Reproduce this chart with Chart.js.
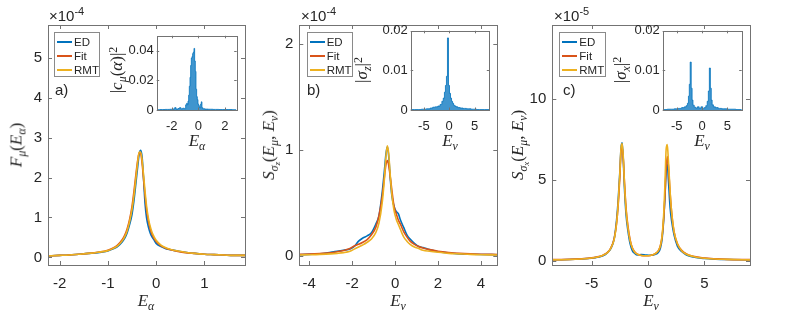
<!DOCTYPE html>
<html lang="en">
<head>
    <meta charset="UTF-8">
    <title>Spectral functions</title>
    <script src="https://cdn.jsdelivr.net/npm/chart.js@4.4.1/dist/chart.umd.min.js"></script>
    <style>
        body { margin: 0; background: #fff; }
        #fig { position: relative; width: 789px; height: 316px; overflow: hidden; font-family: 'Liberation Sans', Arial, sans-serif; color: #262626; }
        canvas { position: absolute; }
        .lbl { position: absolute; white-space: nowrap; }
        .m { font-family: 'Liberation Serif', 'DejaVu Serif', serif; font-size: 17px; line-height: 20px; }
        .m i { font-style: italic; }
        .m sub { font-size: 70%; position: relative; top: 0.3em; vertical-align: baseline; }
        .m sub sub { font-size: 75%; }
        .m sup { font-size: 70%; position: relative; top: -0.45em; vertical-align: baseline; }
        .rot { transform: translate(-50%, -50%) rotate(-90deg); }
        .ctr { transform: translate(-50%, -50%); }
        .exp { font-size: 15px; line-height: 15px; }
        .exp sup { font-size: 11px; position: relative; top: -6px; vertical-align: baseline; }
        .tag { font-size: 15px; line-height: 16px; }
        .legend { position: absolute; background: #fff; border: 1px solid #8a8a8a; box-sizing: border-box; height: 45px; }
        .legend div { position: absolute; left: 19px; font-size: 11.5px; line-height: 12px; }
        .legend span { position: absolute; left: 2px; width: 15px; height: 1.5px; }
    </style>
</head>
<body>
<div id="fig">
    <canvas id="mainA"></canvas>
    <canvas id="mainB"></canvas>
    <canvas id="mainC"></canvas>
    <canvas id="insA"></canvas>
    <canvas id="insB"></canvas>
    <canvas id="insC"></canvas>

    <!-- exponents -->
    <div class="lbl exp" style="left:49px; top:8px;">&times;10<sup>-4</sup></div>
    <div class="lbl exp" style="left:301px; top:8px;">&times;10<sup>-4</sup></div>
    <div class="lbl exp" style="left:554px; top:8px;">&times;10<sup>-5</sup></div>

    <!-- panel tags -->
    <div class="lbl tag" style="left:55px; top:82px;">a)</div>
    <div class="lbl tag" style="left:307px; top:82px;">b)</div>
    <div class="lbl tag" style="left:563px; top:82px;">c)</div>

    <!-- main axis titles -->
    <div class="lbl m rot" style="left:17px; top:145px;"><i>F</i><sub><i>μ</i></sub>(<i>E</i><sub><i>α</i></sub>)</div>
    <div class="lbl m ctr" style="left:146px; top:301px;"><i>E</i><sub><i>α</i></sub></div>
    <div class="lbl m rot" style="left:270px; top:145px;"><i>S</i><sub><i>σ</i><sub><i>z</i></sub></sub>(<i>E</i><sub><i>μ</i></sub>, <i>E</i><sub><i>ν</i></sub>)</div>
    <div class="lbl m ctr" style="left:398px; top:301px;"><i>E</i><sub><i>ν</i></sub></div>
    <div class="lbl m rot" style="left:519px; top:145px;"><i>S</i><sub><i>σ</i><sub><i>x</i></sub></sub>(<i>E</i><sub><i>μ</i></sub>, <i>E</i><sub><i>ν</i></sub>)</div>
    <div class="lbl m ctr" style="left:651px; top:301px;"><i>E</i><sub><i>ν</i></sub></div>

    <!-- inset axis titles -->
    <div class="lbl m rot" style="left:117px; top:70px;">|<i>c</i><sub><i>μ</i></sub>(<i>α</i>)|<sup>2</sup></div>
    <div class="lbl m ctr" style="left:197px; top:141px;"><i>E</i><sub><i>α</i></sub></div>
    <div class="lbl m rot" style="left:362px; top:70px;">|<i>σ</i><sub><i>z</i></sub>|<sup>2</sup></div>
    <div class="lbl m ctr" style="left:450px; top:141px;"><i>E</i><sub><i>ν</i></sub></div>
    <div class="lbl m rot" style="left:621px; top:70px;">|<i>σ</i><sub><i>x</i></sub>|<sup>2</sup></div>
    <div class="lbl m ctr" style="left:702px; top:141px;"><i>E</i><sub><i>ν</i></sub></div>

    <!-- legends -->
    <div class="legend" id="legA" style="left:54px; top:32px; width:46px;"></div>
    <div class="legend" id="legB" style="left:306.7px; top:32px; width:46px;"></div>
    <div class="legend" id="legC" style="left:559.3px; top:32px; width:46.7px;"></div>
</div>

<script>
const seriesNames = ['ED', 'Fit', 'RMT'];
const seriesColors = ['#0072BD', '#D95319', '#EDB120'];
const histColor = 'rgba(0,114,189,0.75)';

// panel a: F_mu(E_alpha), units of 1e-4
const aE   = [-2.24,-2.0,-1.8,-1.6,-1.4,-1.2,-1.0,-0.9,-0.8,-0.7,-0.65,-0.6,-0.55,-0.5,-0.46,-0.42,-0.38,-0.35,-0.32,-0.29,-0.26,-0.23,-0.2,-0.16,-0.12,-0.08,-0.04,0,0.1,0.2,0.3,0.45,0.6,0.8,1.0,1.2,1.4,1.6,1.84];
const aED  = [0.04,0.05,0.06,0.08,0.10,0.12,0.16,0.21,0.27,0.39,0.48,0.62,0.82,1.08,1.42,1.85,2.30,2.60,2.68,2.50,1.95,1.35,1.00,0.76,0.60,0.50,0.43,0.35,0.27,0.22,0.19,0.16,0.13,0.10,0.08,0.07,0.06,0.05,0.05];
const aFit = [0.04,0.05,0.06,0.08,0.10,0.13,0.18,0.23,0.31,0.45,0.56,0.72,0.95,1.28,1.65,2.07,2.45,2.62,2.60,2.35,1.95,1.55,1.20,0.90,0.70,0.56,0.47,0.40,0.29,0.23,0.19,0.15,0.12,0.10,0.08,0.07,0.06,0.05,0.05];
const aRMT = [0.04,0.05,0.06,0.08,0.10,0.13,0.17,0.22,0.29,0.42,0.52,0.67,0.90,1.20,1.55,1.98,2.42,2.64,2.64,2.42,2.05,1.65,1.30,0.98,0.76,0.61,0.51,0.43,0.31,0.24,0.20,0.16,0.13,0.10,0.08,0.07,0.06,0.05,0.05];
const aXTicks = [-2, -1, 0, 1];
const aYTicks = [0, 1, 2, 3, 4, 5];
// inset a: |c_mu(alpha)|^2
const aHistE = [-3.1,-2.7,-2.3,-2.0,-1.8,-1.75,-1.6,-1.45,-1.37,-1.25,-1.1,-1.0,-0.9,-0.85,-0.8,-0.75,-0.7,-0.65,-0.6,-0.55,-0.5,-0.45,-0.4,-0.35,-0.3,-0.25,-0.2,-0.15,-0.1,-0.05,0,0.05,0.1,0.15,0.2,0.25,0.3,0.4,0.6,0.9,1.3,1.8,2.3,2.85];
const aHist  = [0.0002,0.0003,0.0004,0.0005,0.0007,0.0016,0.0006,0.001,0.0016,0.0008,0.0012,0.0009,0.0035,0.0045,0.0035,0.006,0.01,0.016,0.022,0.03,0.035,0.036,0.038,0.039,0.0415,0.033,0.026,0.014,0.009,0.007,0.004,0.003,0.002,0.0015,0.004,0.0055,0.0015,0.0008,0.0006,0.0005,0.0004,0.0003,0.0003,0.0002];
const aHistXTicks = [-2, 0, 2];
const aHistYTicks = [0, 0.02, 0.04];

// panel b: S_sigma_z, units of 1e-4
const bE   = [-4.46,-4,-3.5,-3,-2.7,-2.4,-2.1,-1.9,-1.7,-1.5,-1.3,-1.1,-0.9,-0.75,-0.6,-0.5,-0.42,-0.36,-0.3,-0.22,-0.15,-0.05,0.05,0.15,0.25,0.4,0.55,0.7,0.9,1.1,1.3,1.6,2.0,2.5,3.0,3.5,4.0,4.76];
const bED  = [0.012,0.015,0.02,0.035,0.045,0.055,0.065,0.09,0.14,0.17,0.19,0.22,0.30,0.38,0.60,0.80,0.97,1.03,0.95,0.72,0.57,0.47,0.42,0.40,0.34,0.27,0.20,0.16,0.12,0.09,0.08,0.06,0.04,0.03,0.02,0.017,0.014,0.012];
const bFit = [0.015,0.018,0.023,0.03,0.04,0.052,0.07,0.095,0.11,0.13,0.155,0.20,0.27,0.38,0.56,0.74,0.87,0.90,0.86,0.74,0.62,0.47,0.40,0.34,0.30,0.23,0.18,0.14,0.11,0.09,0.075,0.06,0.045,0.033,0.025,0.02,0.017,0.014];
const bRMT = [0.01,0.012,0.015,0.02,0.025,0.032,0.045,0.065,0.085,0.105,0.13,0.16,0.22,0.31,0.50,0.72,0.95,1.04,0.97,0.75,0.58,0.43,0.35,0.30,0.25,0.18,0.14,0.11,0.085,0.07,0.055,0.045,0.035,0.025,0.02,0.015,0.012,0.01];
const bXTicks = [-4, -2, 0, 2, 4];
const bYTicks = [0, 1, 2];
// inset b: |sigma_z|^2
const bHistE = [-7.7,-6,-5,-4,-3.5,-3,-2.5,-2,-1.6,-1.3,-1.05,-0.85,-0.65,-0.45,-0.25,-0.05,0.15,0.35,0.55,0.75,0.95,1.2,1.5,1.9,2.4,3,3.8,4.8,6,7.9];
const bHist  = [0.0001,0.0001,0.0002,0.0003,0.0005,0.0007,0.0008,0.001,0.0014,0.0022,0.003,0.0045,0.0062,0.0085,0.0182,0.0062,0.0042,0.003,0.0022,0.0017,0.0012,0.001,0.0008,0.0006,0.0005,0.0004,0.0003,0.0002,0.0001,0.0001];
const bHistXTicks = [-5, 0, 5];
const bHistYTicks = [0, 0.01, 0.02];

// panel c: S_sigma_x, units of 1e-5
const cE   = [-8.5,-7,-6,-5,-4.4,-4,-3.6,-3.3,-3.0,-2.8,-2.65,-2.5,-2.4,-2.3,-2.2,-2.1,-1.95,-1.8,-1.6,-1.4,-1.2,-1.0,-0.6,-0.2,0.2,0.6,0.9,1.1,1.25,1.4,1.5,1.6,1.7,1.8,1.95,2.1,2.3,2.6,3.0,3.4,4.0,5.0,6.0,7.0,9.04];
const cED  = [0.05,0.07,0.10,0.15,0.22,0.30,0.50,0.75,1.40,2.50,3.80,5.60,7.00,7.30,6.20,4.50,2.80,1.90,1.05,0.62,0.45,0.36,0.38,0.35,0.33,0.38,0.50,0.80,1.40,2.70,4.00,5.60,6.00,5.00,3.30,2.40,1.60,0.90,0.55,0.35,0.22,0.13,0.09,0.07,0.05];
const cFit = [0.06,0.08,0.11,0.17,0.25,0.34,0.52,0.80,1.40,2.30,3.50,5.30,6.80,7.00,6.30,4.90,3.20,2.20,1.30,0.80,0.55,0.42,0.32,0.30,0.32,0.42,0.60,0.95,1.55,2.80,4.10,5.70,6.45,5.90,4.20,2.90,1.80,1.05,0.62,0.42,0.27,0.16,0.11,0.08,0.06];
const cRMT = [0.05,0.07,0.10,0.16,0.24,0.33,0.50,0.78,1.35,2.30,3.60,5.50,7.00,7.25,6.40,4.80,3.10,2.10,1.25,0.78,0.54,0.42,0.32,0.30,0.32,0.42,0.60,0.95,1.60,3.10,4.90,6.90,7.20,6.20,4.30,2.90,1.80,1.05,0.60,0.40,0.26,0.15,0.10,0.08,0.05];
const cXTicks = [-5, 0, 5];
const cYTicks = [0, 5, 10];
// inset c: |sigma_x|^2
const cHistE = [-7.8,-6,-5,-4.4,-3.7,-3.3,-3.0,-2.8,-2.6,-2.45,-2.25,-2.05,-1.9,-1.7,-1.4,-1.1,-0.75,-0.4,-0.05,0.3,0.6,0.9,1.15,1.35,1.55,1.75,1.9,2.1,2.4,2.9,3.5,4.3,5.5,7.9];
const cHist  = [0.0001,0.0002,0.0003,0.0004,0.0006,0.0008,0.0011,0.0017,0.0035,0.0065,0.0121,0.0055,0.0025,0.0012,0.0007,0.0005,0.0008,0.0004,0.0008,0.0004,0.0006,0.0011,0.0022,0.0048,0.0106,0.0055,0.0025,0.0013,0.0008,0.0006,0.0004,0.0003,0.0002,0.0001];
const cHistXTicks = [-5, 0, 5];
const cHistYTicks = [0, 0.01, 0.02];

const tickColor = '#262626';
const frameColor = '#737373';

// white plot background, box and inward ticks on all four sides (MATLAB look)
const boxPlugin = {
    id: 'box',
    beforeDatasetsDraw(chart) {
        const a = chart.chartArea, ctx = chart.ctx;
        ctx.save();
        ctx.fillStyle = '#fff';
        ctx.fillRect(a.left, a.top, a.right - a.left, a.bottom - a.top);
        ctx.restore();
    },
    afterDraw(chart, args, opts) {
        const a = chart.chartArea, ctx = chart.ctx;
        const len = opts.len || 4;
        ctx.save();
        ctx.strokeStyle = frameColor;
        ctx.lineWidth = 1;
        ctx.strokeRect(Math.round(a.left) + 0.5, Math.round(a.top) + 0.5,
                       Math.round(a.right) - Math.round(a.left), Math.round(a.bottom) - Math.round(a.top));
        ctx.beginPath();
        chart.scales.x.ticks.forEach(t => {
            const px = Math.round(chart.scales.x.getPixelForValue(t.value)) + 0.5;
            ctx.moveTo(px, a.bottom); ctx.lineTo(px, a.bottom - len);
            ctx.moveTo(px, a.top); ctx.lineTo(px, a.top + len);
        });
        chart.scales.y.ticks.forEach(t => {
            const py = Math.round(chart.scales.y.getPixelForValue(t.value)) + 0.5;
            ctx.moveTo(a.left, py); ctx.lineTo(a.left + len, py);
            ctx.moveTo(a.right, py); ctx.lineTo(a.right - len, py);
        });
        ctx.stroke();
        ctx.restore();
    }
};

// canvas rect c = [left, top, width, height], plot box b = [left, top, right, bottom]
function frame(id, c, b) {
    const cv = document.getElementById(id);
    cv.style.left = c[0] + 'px';
    cv.style.top = c[1] + 'px';
    cv.width = c[2];
    cv.height = c[3];
    return {
        cv: cv,
        pad: { left: 0, top: b[1] - c[1], right: c[0] + c[2] - b[2], bottom: 0 },
        yW: b[0] - c[0],
        xH: c[1] + c[3] - b[3]
    };
}

function axis(min, max, ticks, size, fontSize, pad, isX) {
    return {
        type: 'linear', min: min, max: max,
        afterBuildTicks: s => { s.ticks = ticks.map(v => ({ value: v })); },
        afterFit: s => { if (isX) s.height = size; else s.width = size; },
        ticks: {
            autoSkip: false, maxRotation: 0, padding: pad, color: tickColor,
            font: { family: "'Liberation Sans', Arial, sans-serif", size: fontSize },
            callback: v => String(v)
        },
        grid: { display: false, drawTicks: false },
        border: { display: false }
    };
}

function mainChart(id, c, b, xs, ys, xr, yr, xt, yt) {
    const f = frame(id, c, b);
    return new Chart(f.cv, {
        type: 'line',
        data: {
            datasets: ys.map((y, i) => ({
                label: seriesNames[i],
                data: xs.map((x, j) => ({ x: x, y: y[j] })),
                borderColor: seriesColors[i],
                borderWidth: 1.6,
                pointRadius: 0,
                cubicInterpolationMode: 'monotone',
                order: ys.length - i
            }))
        },
        options: {
            responsive: false, animation: false, devicePixelRatio: 1,
            layout: { padding: f.pad },
            plugins: { legend: { display: false }, tooltip: { enabled: false }, box: { len: 4 } },
            scales: {
                x: axis(xr[0], xr[1], xt, f.xH, 15, 10, true),
                y: axis(yr[0], yr[1], yt, f.yW, 15, 6, false)
            }
        },
        plugins: [boxPlugin]
    });
}

function insetChart(id, c, b, xs, hs, xr, yr, xt, yt) {
    const f = frame(id, c, b);
    return new Chart(f.cv, {
        type: 'line',
        data: {
            datasets: [{
                data: xs.map((x, j) => ({ x: x, y: hs[j] })),
                stepped: 'middle',
                fill: 'origin',
                backgroundColor: histColor,
                borderColor: '#0072BD',
                borderWidth: 0.8,
                pointRadius: 0
            }]
        },
        options: {
            responsive: false, animation: false, devicePixelRatio: 1,
            layout: { padding: f.pad },
            plugins: { legend: { display: false }, tooltip: { enabled: false }, box: { len: 2.5 } },
            scales: {
                x: axis(xr[0], xr[1], xt, f.xH, 13, 9, true),
                y: axis(yr[0], yr[1], yt, f.yW, 13, 3, false)
            }
        },
        plugins: [boxPlugin]
    });
}

mainChart('mainA', [0, 0, 260, 316], [48, 25, 245, 265], aE, [aED, aFit, aRMT], [-2.24, 1.84], [-0.19, 5.82], aXTicks, aYTicks);
mainChart('mainB', [260, 0, 260, 316], [299.3, 25, 497.3, 265], bE, [bED, bFit, bRMT], [-4.46, 4.76], [-0.085, 2.18], bXTicks, bYTicks);
mainChart('mainC', [520, 0, 269, 316], [552.3, 25, 750, 265], cE, [cED, cFit, cRMT], [-8.5, 9.04], [-0.27, 14.6], cXTicks, cYTicks);

insetChart('insA', [122, 25, 123, 110], [156.7, 32.3, 236.7, 110], aHistE, aHist, [-3.13, 2.89], [0, 0.05], aHistXTicks, aHistYTicks);
insetChart('insB', [372, 20, 125, 115], [410.7, 30, 489.3, 110], bHistE, bHist, [-7.6, 7.9], [0, 0.02], bHistXTicks, bHistYTicks);
insetChart('insC', [624, 20, 125, 115], [662.7, 30, 741.7, 110], cHistE, cHist, [-7.8, 7.86], [0, 0.02], cHistXTicks, cHistYTicks);

// legends
['legA', 'legB', 'legC'].forEach(id => {
    const box = document.getElementById(id);
    seriesNames.forEach((name, i) => {
        const y = 9.7 + i * 14;
        const line = document.createElement('span');
        line.style.top = (y - 1.5) + 'px';
        line.style.background = seriesColors[i];
        const txt = document.createElement('div');
        txt.style.top = (y - 7) + 'px';
        txt.textContent = name;
        box.appendChild(line);
        box.appendChild(txt);
    });
});
</script>
</body>
</html>
